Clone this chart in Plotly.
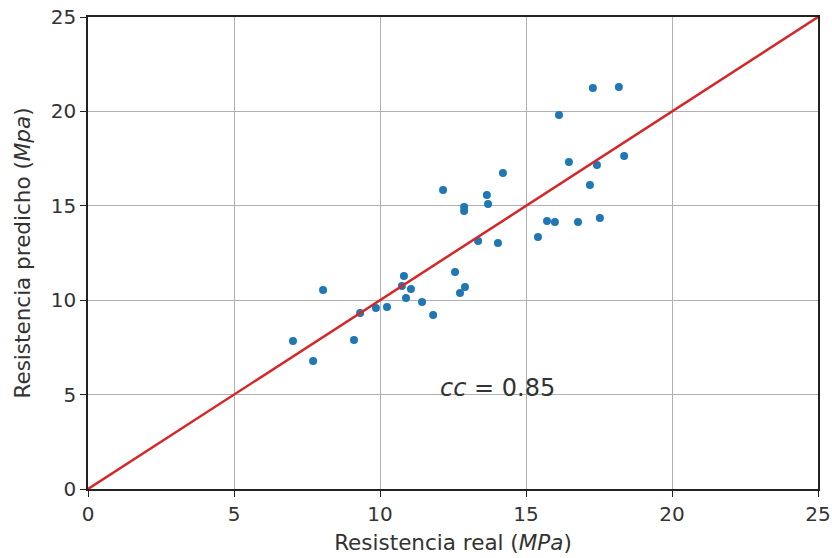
import plotly.graph_objects as go

real = [7.02, 7.71, 8.05, 9.11, 9.32, 9.86, 10.24, 10.75, 10.82, 10.89, 11.06, 11.44,
        11.82, 12.16, 12.57, 12.74, 12.91, 12.88, 12.88, 13.36, 13.66, 13.70, 14.04,
        14.21, 15.41, 15.72, 15.99, 16.13, 16.47, 16.78, 17.19, 17.29, 17.43, 17.53,
        18.18, 18.36]
pred = [7.84, 6.78, 10.54, 7.89, 9.32, 9.59, 9.64, 10.75, 11.28, 10.12, 10.59, 9.90,
        9.22, 15.84, 11.49, 10.38, 10.70, 14.94, 14.72, 13.14, 15.57, 15.10, 13.03,
        16.74, 13.35, 14.19, 14.14, 19.81, 17.32, 14.14, 16.10, 21.24, 17.16, 14.35,
        21.29, 17.64]
diag = [0, 25]
ticks = [0, 5, 10, 15, 20, 25]
cc_text = "<i>cc</i> = 0.85"

FONT = "DejaVu Sans"
fig = go.Figure()
fig.add_trace(go.Scatter(x=real, y=pred, mode="markers",
                         marker=dict(color="#1f77b4", size=8, line=dict(width=0)),
                         showlegend=False))
fig.add_trace(go.Scatter(x=diag, y=diag, mode="lines",
                         line=dict(color="#d62728", width=2.5), showlegend=False))

axis_common = dict(range=[0, 25], tickvals=ticks, showgrid=True, gridcolor="#b0b0b0",
                   gridwidth=1, zeroline=False, showline=True, linecolor="#222",
                   linewidth=1.5, mirror=True, ticks="outside", ticklen=6,
                   tickcolor="#222", automargin=False,
                   tickfont=dict(family=FONT, size=20, color="#333"))
fig.update_xaxes(**axis_common,
                 title=dict(text="Resistencia real (<i>MPa</i>)", standoff=10,
                            font=dict(family=FONT, size=21.5, color="#333")))
fig.update_yaxes(**axis_common,
                 title=dict(text="Resistencia predicho (<i>Mpa</i>)", standoff=14,
                            font=dict(family=FONT, size=21.5, color="#333")))
fig.add_annotation(x=12, y=5.35, xanchor="left", yanchor="middle", text=cc_text,
                   showarrow=False, font=dict(family=FONT, size=24, color="#333"))
fig.update_layout(width=832, height=558, margin=dict(l=88, r=14, t=17, b=69),
                  plot_bgcolor="white", paper_bgcolor="white")
fig.write_html("out.html")
